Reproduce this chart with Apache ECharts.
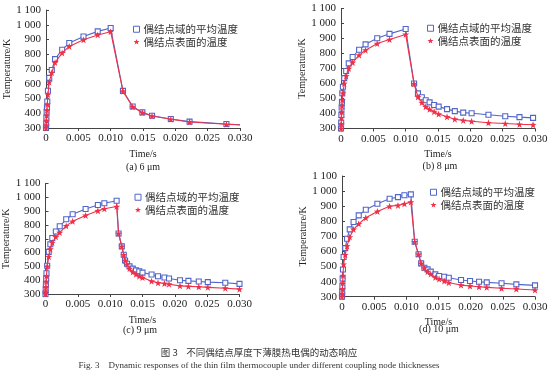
<!DOCTYPE html>
<html>
<head>
<meta charset="utf-8">
<script src="https://cdn.jsdelivr.net/npm/echarts@6/dist/echarts.min.js"></script>
<style>html,body{margin:0;padding:0;background:#fff}#c{width:554px;height:380px}</style>
</head>
<body>
<div id="c"></div>
<script>
// ---- data ----
const seriesNames = ['偶结点域的平均温度', '偶结点表面的温度'];
const panelCaptions = ['(a) 6 μm', '(b) 8 μm', '(c) 9 μm', '(d) 10 μm'];
const yTicks = [300, 1100, 100];
const xTicks = [0, 0.03, 0.005];

const timeA = [0, 0.00003, 0.00006, 0.0001, 0.00015, 0.0002, 0.0003, 0.0005, 0.0009, 0.0014, 0.0025, 0.0036, 0.0058, 0.008, 0.010, 0.0119, 0.0134, 0.0149, 0.0164, 0.0193, 0.0222, 0.0279, 0.030];
const avgA = [300, 330, 370, 410, 440, 480, 553, 640, 693, 767, 831, 876, 920, 955, 978, 552, 446, 406, 383, 361, 343, 327, 322];
const surfA = [300, 320, 350, 385, 420, 460, 527, 611, 675, 744, 809, 853, 898, 931, 953, 550, 444, 404, 381, 359, 341, 325, 320];

const timeB = [0, 0.00003, 0.00006, 0.0001, 0.00015, 0.0002, 0.0003, 0.0005, 0.0008, 0.0012, 0.0018, 0.0028, 0.0038, 0.0056, 0.0075, 0.010, 0.0113, 0.0119, 0.0125, 0.0131, 0.0137, 0.0144, 0.0151, 0.0164, 0.0176, 0.0189, 0.0202, 0.0228, 0.0254, 0.0276, 0.0297];
const avgB = [300, 340, 390, 440, 478, 535, 578, 636, 683, 734, 777, 825, 861, 902, 931, 963, 600, 534, 508, 488, 474, 457, 446, 429, 416, 406, 402, 392, 382, 376, 371];
const surfB = [300, 330, 370, 410, 450, 490, 535, 600, 650, 700, 740, 789, 822, 866, 893, 927, 598, 510, 473, 445, 428, 412, 396, 378, 362, 354, 348, 338, 333, 328, 325];

const timeC = [0, 0.00003, 0.00006, 0.0001, 0.00015, 0.00026, 0.0005, 0.00075, 0.00105, 0.0016, 0.0022, 0.0032, 0.0042, 0.0062, 0.0081, 0.0091, 0.0110, 0.0113, 0.0118, 0.0121, 0.0123, 0.0126, 0.013, 0.0135, 0.014, 0.0145, 0.015, 0.0164, 0.0174, 0.0184, 0.0191, 0.0208, 0.0221, 0.0237, 0.0251, 0.0278, 0.030];
const avgC = [300, 330, 370, 410, 450, 505, 605, 660, 705, 752, 790, 841, 877, 915, 944, 957, 975, 738, 645, 584, 543, 519, 500, 484, 471, 464, 455, 441, 429, 419, 412, 400, 395, 391, 386, 381, 373];
const surfC = [300, 320, 350, 390, 430, 500, 570, 625, 672, 714, 745, 793, 826, 869, 903, 917, 933, 738, 645, 584, 543, 515, 484, 459, 443, 429, 419, 393, 381, 376, 371, 359, 355, 352, 348, 342, 335];

const timeD = [0, 0.00003, 0.00006, 0.0001, 0.00015, 0.00025, 0.0005, 0.00078, 0.0012, 0.0018, 0.0026, 0.0037, 0.0055, 0.0074, 0.0087, 0.0097, 0.0107, 0.0113, 0.0119, 0.0123, 0.0128, 0.0133, 0.0138, 0.0145, 0.0151, 0.0159, 0.0166, 0.0185, 0.0199, 0.0213, 0.0225, 0.0248, 0.0271, 0.030];
const avgD = [300, 330, 370, 420, 480, 563, 622, 684, 746, 795, 839, 876, 916, 949, 960, 972, 978, 664, 581, 521, 492, 481, 466, 448, 437, 432, 426, 411, 404, 399, 395, 389, 382, 375];
const surfD = [300, 320, 350, 390, 440, 515, 578, 636, 695, 746, 783, 823, 865, 899, 905, 916, 927, 664, 581, 521, 490, 466, 450, 428, 417, 404, 393, 377, 371, 366, 362, 356, 351, 344];

const panels = [
  {t: timeA, avg: avgA, surf: surfA, lastNoMark: true},
  {t: timeB, avg: avgB, surf: surfB},
  {t: timeC, avg: avgC, surf: surfC},
  {t: timeD, avg: avgD, surf: surfD}
];

// ---- layout / style ----
const BLUE = '#5266c8';
const RED = '#ef3048';
const STAR = 'path://M0,-10 L2.35,-3.24 L9.51,-3.09 L3.8,1.24 L5.88,8.09 L0,4 L-5.88,8.09 L-3.8,1.24 L-9.51,-3.09 L-2.35,-3.24 Z';
const SERIF = '"Liberation Serif", "DejaVu Serif", serif';
const CJK = '"Noto Sans CJK SC", sans-serif';

const grids = [
  {left: 46, top: 10, width: 194, height: 118},
  {left: 341, top: 8.5, width: 194, height: 120},
  {left: 45.5, top: 183.5, width: 194, height: 110.5},
  {left: 342, top: 176, width: 193, height: 120.7}
];
const legendPos = [
  {left: 128, top: 19},
  {left: 422, top: 18},
  {left: 129.5, top: 187},
  {left: 425, top: 182}
];
const captionPos = [[143, 167], [440, 166], [140, 330], [439, 329]];

const chart = echarts.init(document.getElementById('c'), null, {renderer: 'canvas'});

const xAxes = [], yAxes = [], series = [], legends = [];
panels.forEach((p, i) => {
  xAxes.push({
    type: 'value', gridIndex: i, min: xTicks[0], max: xTicks[1], interval: xTicks[2],
    name: 'Time/s', nameLocation: 'middle', nameGap: 21,
    nameTextStyle: {fontFamily: SERIF, fontSize: 10, color: '#222'},
    axisLine: {lineStyle: {color: '#444', width: 1}},
    axisTick: {show: true, inside: false, length: 3, lineStyle: {color: '#444'}},
    splitLine: {show: false},
    axisLabel: {fontFamily: SERIF, fontSize: 11, color: '#222', margin: 5,
      formatter: v => v === 0 ? '0' : v.toFixed(3)}
  });
  yAxes.push({
    type: 'value', gridIndex: i, min: yTicks[0], max: yTicks[1], interval: yTicks[2],
    name: 'Temperature/K', nameLocation: 'middle', nameGap: 32, nameRotate: 90,
    nameTextStyle: {fontFamily: SERIF, fontSize: 10, color: '#222'},
    axisLine: {show: true, lineStyle: {color: '#444', width: 1}},
    axisTick: {show: true, inside: true, length: 3, lineStyle: {color: '#444'}},
    splitLine: {show: false},
    axisLabel: {fontFamily: SERIF, fontSize: 11, color: '#222', margin: 5,
      formatter: v => v >= 1000 ? '1 ' + String(v).slice(1) : String(v)}
  });
  const mk = (vals) => p.t.map((t, k) => {
    const item = {value: [t, vals[k]]};
    if (p.lastNoMark && k === p.t.length - 1) item.symbol = 'none';
    return item;
  });
  series.push({
    name: seriesNames[0], type: 'line', xAxisIndex: i, yAxisIndex: i,
    data: mk(p.avg), symbol: 'rect', symbolSize: 5,
    lineStyle: {color: BLUE, width: 1.1},
    itemStyle: {color: '#ffffff', borderColor: BLUE, borderWidth: 1.1},
    animation: false, z: 2
  });
  series.push({
    name: seriesNames[1], type: 'line', xAxisIndex: i, yAxisIndex: i,
    data: mk(p.surf), symbol: STAR, symbolSize: 7,
    lineStyle: {color: RED, width: 1.1},
    itemStyle: {color: RED, borderWidth: 0},
    animation: false, z: 3
  });
  legends.push({
    left: legendPos[i].left, top: legendPos[i].top, orient: 'vertical',
    itemWidth: 6, itemHeight: 6, itemGap: 2, selectedMode: false,
    textStyle: {fontFamily: CJK, fontSize: 10.5, color: '#333', padding: [0, 0, 0, -1]},
    data: [
      {name: seriesNames[0], icon: 'rect', itemStyle: {color: '#fff', borderColor: BLUE, borderWidth: 1}},
      {name: seriesNames[1], icon: STAR, itemStyle: {color: RED, borderWidth: 0}}
    ]
  });
});

const graphics = captionPos.map((c, i) => ({
  type: 'text', x: c[0], y: c[1],
  style: {text: panelCaptions[i], font: '10px ' + SERIF, fill: '#222', textAlign: 'center', textVerticalAlign: 'middle'}
}));
graphics.push({
  type: 'text', x: 259, y: 352,
  style: {text: '图 3    不同偶结点厚度下薄膜热电偶的动态响应', font: '9.5px ' + CJK, fill: '#333', textAlign: 'center', textVerticalAlign: 'middle'}
});
graphics.push({
  type: 'text', x: 259, y: 366,
  style: {text: 'Fig. 3    Dynamic responses of the thin film thermocouple under different coupling node thicknesses', font: '9px ' + SERIF, fill: '#333', textAlign: 'center', textVerticalAlign: 'middle'}
});

chart.setOption({
  animation: false,
  backgroundColor: '#ffffff',
  grid: grids,
  xAxis: xAxes,
  yAxis: yAxes,
  series: series,
  legend: legends,
  graphic: graphics
});
</script>
</body>
</html>
